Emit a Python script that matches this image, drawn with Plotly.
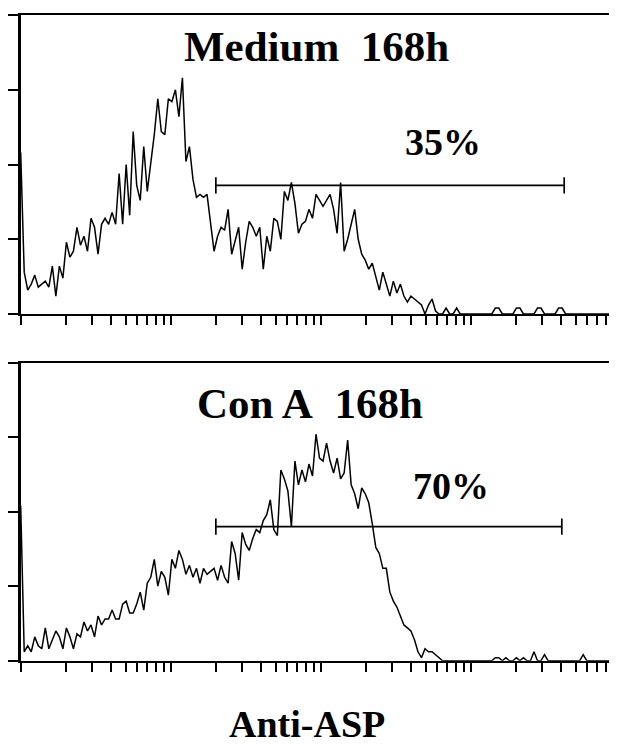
import plotly.graph_objects as go

# ---- data ----
# channel numbers (1024-channel, 4-decade log scale: intensity = 10**(ch/256))
channels = [i * 6 for i in range(169)]

medium_counts = [
    54, 14, 8, 10, 13, 9, 10, 11, 9, 16,
    6, 16, 12, 24, 19, 21, 29, 23, 26, 21,
    32, 29, 20, 30, 32, 30, 34, 30, 47, 30,
    50, 33, 61, 43, 38, 56, 41, 50, 60, 72,
    61, 60, 72, 71, 75, 66, 79, 51, 56, 45,
    39, 40, 39, 40, 30, 21, 26, 29, 28, 35,
    20, 25, 29, 15, 24, 31, 29, 26, 29, 15,
    26, 21, 32, 31, 25, 41, 38, 44, 37, 27,
    30, 31, 35, 32, 40, 38, 36, 38, 40, 35,
    27, 44, 21, 25, 30, 35, 25, 20, 18, 15,
    17, 12, 8, 14, 10, 6, 11, 7, 10, 6,
    4, 6, 5, 4, 3, 0, 3, 5, 1, 0,
    0, 2, 0, 0, 2, 0, 0, 0, 0, 0,
    0, 0, 0, 0, 0, 2, 2, 0, 0, 0,
    0, 2, 2, 0, 0, 0, 0, 2, 2, 0,
    0, 0, 0, 2, 2, 0, 0, 0, 0, 0,
    0, 0, 0, 0, 0, 0, 0, 0, 0,
]

cona_counts = [
    52, 3, 5, 3, 8, 5, 4, 11, 4, 7,
    10, 8, 4, 11, 8, 4, 9, 8, 13, 10,
    12, 8, 15, 12, 14, 14, 17, 14, 14, 19,
    20, 16, 16, 19, 23, 17, 26, 28, 34, 25,
    30, 28, 22, 34, 31, 37, 34, 29, 32, 28,
    31, 26, 31, 29, 30, 31, 27, 32, 28, 26,
    40, 36, 27, 43, 39, 37, 41, 44, 43, 47,
    49, 54, 44, 42, 64, 61, 57, 45, 67, 59,
    64, 60, 66, 62, 76, 68, 67, 73, 67, 63,
    68, 61, 63, 74, 59, 56, 51, 58, 56, 53,
    46, 38, 36, 31, 31, 23, 20, 18, 15, 12,
    11, 10, 7, 3, 1, 4, 3, 3, 2, 1,
    0, 0, 0, 0, 0, 0, 0, 0, 0, 0,
    0, 0, 0, 0, 0, 1, 1, 0, 1, 0,
    0, 1, 0, 1, 0, 0, 3, 0, 0, 2,
    0, 0, 0, 0, 0, 0, 0, 0, 0, 0,
    2, 0, 0, 0, 0, 0, 0, 0, 0,
]

titles = ["Medium\u00a0 168h", "Con A\u00a0 168h"]
percent_labels = ["35%", "70%"]
gate_x = [[20, 4200], [20, 4050]]
gate_y = [43, 45]
x_title = "Anti-ASP"

y_ticks = [0, 25, 50, 75, 100]
x_ticks = [k * 10 ** d for d in range(4) for k in range(1, 10)]

intensity = [10 ** (c / 256) for c in channels]

# page body has an 8px margin: figure is drawn 8px right/down of the window corner
OFF = 8
W, H = 617 - OFF, 744 - OFF
fig = go.Figure()

panels = [
    (medium_counts, "x", "y"),
    (cona_counts, "x2", "y2"),
]
for idx, (counts, xa, ya) in enumerate(panels):
    fig.add_trace(go.Scatter(
        x=intensity, y=counts, xaxis=xa, yaxis=ya, mode="lines",
        line=dict(color="black", width=1.5),
        hoverinfo="skip", showlegend=False,
    ))
    fig.add_trace(go.Scatter(
        x=gate_x[idx], y=[gate_y[idx]] * 2, xaxis=xa, yaxis=ya, mode="lines",
        line=dict(color="black", width=1.7),
        error_y=dict(type="constant", value=2.7, width=0, thickness=1.7, color="black"),
        hoverinfo="skip", showlegend=False,
    ))


def px_x(v):
    return (v - OFF) / W


def px_y(v):
    return 1 - (v - OFF) / H


x_dom = [px_x(20.7), 1.0]
x_range = [0, (617 - 20.7) / 150]
top_dom = [px_y(314), px_y(15)]
bot_dom = [px_y(660.7), px_y(362.7)]

xcommon = dict(
    type="log", range=x_range, domain=x_dom,
    tickmode="array", tickvals=x_ticks, showticklabels=False,
    ticks="outside", ticklen=9, tickwidth=1.5, tickcolor="black",
    showline=True, linecolor="black", linewidth=2.2, mirror=True,
    showgrid=False, zeroline=False,
)
ycommon = dict(
    range=[0, 100], tickmode="array", tickvals=y_ticks, showticklabels=False,
    ticks="outside", ticklen=10, tickwidth=1.5, tickcolor="black",
    showline=True, linecolor="black", linewidth=2.5, mirror=False,
    showgrid=False, zeroline=False,
)

fig.update_layout(
    width=W, height=H,
    margin=dict(l=0, r=0, t=0, b=0),
    paper_bgcolor="white", plot_bgcolor="white",
    xaxis=dict(**xcommon, anchor="y"),
    yaxis=dict(**ycommon, domain=top_dom, anchor="x"),
    xaxis2=dict(**xcommon, anchor="y2"),
    yaxis2=dict(**ycommon, domain=bot_dom, anchor="x2"),
)

font_big = dict(family="Liberation Serif", size=43, color="black")
font_pct = dict(family="Liberation Serif", size=38, color="black")

ann = [
    (titles[0], 316, 47, font_big),
    (percent_labels[0], 443, 142, font_pct),
    (titles[1], 310, 404, font_big),
    (percent_labels[1], 451, 486, font_pct),
    (x_title, 307, 724, dict(family="Liberation Serif", size=38, color="black")),
]
for text, px, py, f in ann:
    fig.add_annotation(
        text="<b>" + text + "</b>", xref="paper", yref="paper",
        x=px_x(px), y=px_y(py), xanchor="center", yanchor="middle",
        showarrow=False, font=f,
    )

fig.write_html("out.html")
